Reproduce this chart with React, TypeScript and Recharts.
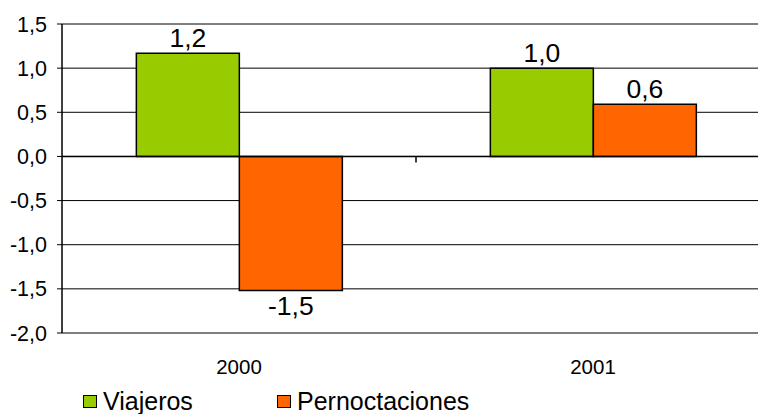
import React from 'react';
import {
  BarChart,
  Bar,
  XAxis,
  YAxis,
  CartesianGrid,
  Legend,
  LabelList,
  ReferenceLine,
} from 'recharts';

const years = ['2000', '2001'];
const viajeros = [1.17, 1.0];
const pernoctaciones = [-1.52, 0.59];
const yTicks = [-2, -1.5, -1, -0.5, 0, 0.5, 1, 1.5];

const data = years.map((year, i) => ({
  year,
  Viajeros: viajeros[i],
  Pernoctaciones: pernoctaciones[i],
}));

const FONT = "Arial, 'Liberation Sans', sans-serif";
const GREEN = '#99CC00';
const ORANGE = '#FF6600';

const fmt = (v: any) => Number(v).toFixed(1).replace('.', ',');

const renderLegend = () => (
  <div style={{ height: 41, position: 'relative', fontFamily: FONT, fontSize: 25 }}>
    {[
      { name: 'Viajeros', color: GREEN, left: 83 },
      { name: 'Pernoctaciones', color: ORANGE, left: 277 },
    ].map((item) => (
      <div
        key={item.name}
        style={{
          position: 'absolute',
          left: item.left,
          top: 15,
          height: 26,
          display: 'flex',
          alignItems: 'center',
          lineHeight: '26px',
          whiteSpace: 'nowrap',
        }}
      >
        <span
          style={{
            display: 'inline-block',
            width: 12,
            height: 11,
            background: item.color,
            border: '1.5px solid #000',
            marginRight: 6,
          }}
        />
        <span>{item.name}</span>
      </div>
    ))}
  </div>
);

// small tick mark on the zero line between the two categories
const ZeroTick = (props: any) => {
  const vb = props.viewBox;
  if (!vb) return null;
  const mid = vb.x + vb.width / 2;
  return <line x1={mid} x2={mid} y1={vb.y} y2={vb.y + 6} stroke="#000" strokeWidth={1.5} />;
};

export default function App() {
  return (
    <div
      style={{
        position: 'absolute',
        top: 0,
        left: 0,
        width: 758,
        height: 414,
        overflow: 'hidden',
        background: '#fff',
      }}
    >
      <BarChart
        width={770}
        height={414}
        data={data}
        margin={{ top: 24, right: 0, left: 0, bottom: 0 }}
        barCategoryGap="21%"
        barGap={0}
      >
        <CartesianGrid vertical={false} stroke="#000" strokeWidth={1} />
        <XAxis
          dataKey="year"
          axisLine={false}
          tickLine={false}
          tickSize={0}
          tickMargin={26}
          height={40}
          tick={{ fontSize: 20.5, fill: '#000', fontFamily: FONT }}
        />
        <YAxis
          width={62}
          domain={[-2, 1.5]}
          ticks={yTicks}
          interval={0}
          tickFormatter={fmt}
          axisLine={{ stroke: '#000', strokeWidth: 1.5 }}
          tickLine={{ stroke: '#000' }}
          tickSize={5}
          tickMargin={10}
          tick={{ fontSize: 21.5, fill: '#000', fontFamily: FONT }}
        />
        <ReferenceLine y={0} stroke="#000" strokeWidth={1.5} label={<ZeroTick />} />
        <Legend verticalAlign="bottom" align="left" content={renderLegend} />
        <Bar dataKey="Viajeros" fill={GREEN} stroke="#000" strokeWidth={1.5} isAnimationActive={false}>
          <LabelList
            dataKey="Viajeros"
            position="top"
            offset={6}
            formatter={fmt}
            style={{ fontSize: 26.5, fill: '#000', fontFamily: FONT }}
          />
        </Bar>
        <Bar dataKey="Pernoctaciones" fill={ORANGE} stroke="#000" strokeWidth={1.5} isAnimationActive={false}>
          <LabelList
            dataKey="Pernoctaciones"
            position="top"
            offset={6}
            formatter={fmt}
            style={{ fontSize: 26.5, fill: '#000', fontFamily: FONT }}
          />
        </Bar>
      </BarChart>
    </div>
  );
}
